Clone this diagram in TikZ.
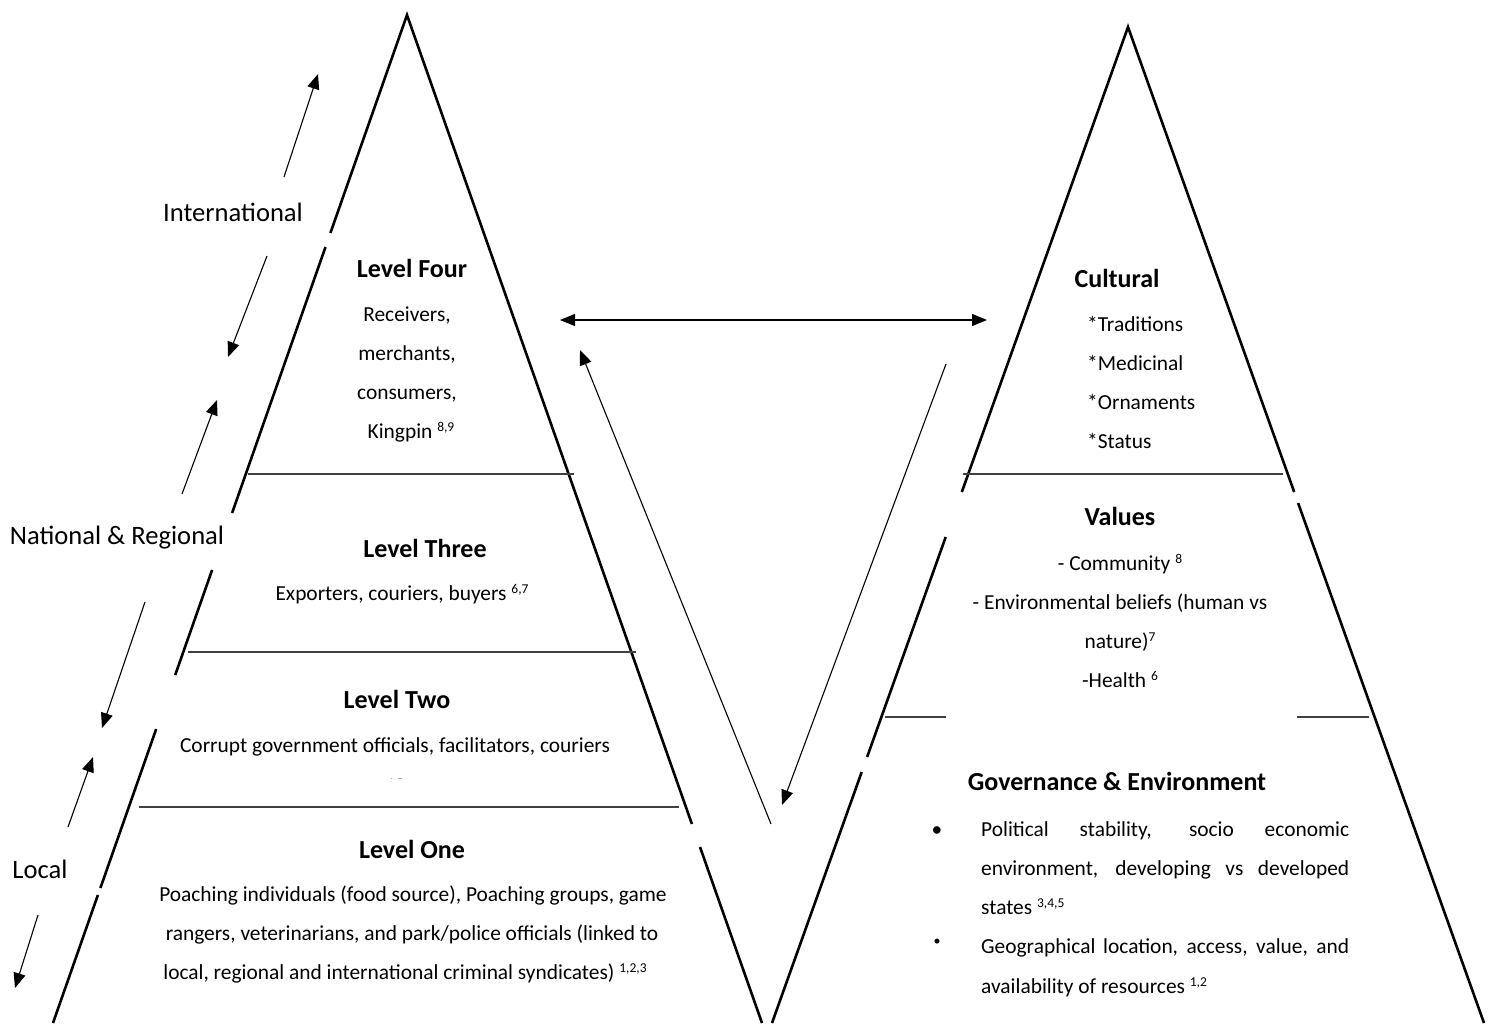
\documentclass[tikz,border=0pt]{standalone}
\usepackage{fontspec}
\setmainfont{Carlito}
\usetikzlibrary{arrows.meta}
\newcommand\refsup[1]{\raisebox{0.34em}{\fontsize{13.5}{13.5}\selectfont #1}}
\begin{document}
\begin{tikzpicture}[x=1pt,y=-1pt,
  edge/.style={line width=2.6pt},
  levelline/.style={line width=1.3pt, draw=black!75},
  flow/.style={line width=1.1pt, -{Triangle[length=15pt,width=12pt]}},
  twoway/.style={line width=1.1pt, {Triangle[length=15pt,width=12pt]}-{Triangle[length=15pt,width=12pt]}},
  txt/.style={inner sep=0pt, font=\fontsize{21.4}{25}\selectfont, text height=17pt, text depth=4pt},
  head/.style={inner sep=0pt, font=\fontsize{26}{30}\selectfont\bfseries, text height=20pt, text depth=5pt},
  lab/.style={inner sep=0pt, font=\fontsize{26.6}{30}\selectfont, text height=20pt, text depth=5pt},
]
\useasboundingbox[fill=white] (0,0) rectangle (1491,1023);

% ---------- left triangle ----------
\coordinate (LA) at (407,15);
\coordinate (LL1) at (330.4,233);
\coordinate (LL2) at (325.5,247);
\coordinate (LL3) at (232.1,513);
\coordinate (LL4) at (212.1,570);
\coordinate (LL5) at (175.2,675);
\coordinate (LL6) at (156.2,729);
\coordinate (LL7) at (100.4,888);
\coordinate (LL8) at (97.9,895);
\coordinate (LLb) at (53,1023);
\coordinate (LR1) at (691.9,824);
\coordinate (LR2) at (700,847);
\coordinate (LRb) at (762,1023);
\draw[edge] (LL1) -- (LA) -- (LR1);
\draw[edge] (LL2) -- (LL3);
\draw[edge] (LL4) -- (LL5);
\draw[edge] (LL6) -- (LL7);
\draw[edge] (LL8) -- (LLb);
\draw[edge] (LR2) -- (LRb);

% ---------- right triangle ----------
\coordinate (RA) at (1128,27);
\coordinate (RL1) at (961.8,492);
\coordinate (RL2) at (945.7,537);
\coordinate (RL3) at (867.1,757);
\coordinate (RL4) at (861.7,772);
\coordinate (RLb) at (772,1023);
\coordinate (RR1) at (1294.2,492);
\coordinate (RR2) at (1298.1,503);
\coordinate (RRb) at (1484,1023);
\draw[edge] (RL1) -- (RA) -- (RR1);
\draw[edge] (RL2) -- (RL3);
\draw[edge] (RL4) -- (RLb);
\draw[edge] (RR2) -- (RRb);

% ---------- level lines ----------
\coordinate (h1a) at (248,474);  \coordinate (h1b) at (574,474);
\coordinate (h2a) at (188,652);  \coordinate (h2b) at (636,652);
\coordinate (h3a) at (139,807);  \coordinate (h3b) at (679,807);
\coordinate (h4a) at (963,474);  \coordinate (h4b) at (1283,474);
\coordinate (h5a) at (885,717);  \coordinate (h5b) at (946,717);
\coordinate (h6a) at (1297,717); \coordinate (h6b) at (1369,717);
\draw[levelline] (h1a) -- (h1b);
\draw[levelline] (h2a) -- (h2b);
\draw[levelline] (h3a) -- (h3b);
\draw[levelline] (h4a) -- (h4b);
\draw[levelline] (h5a) -- (h5b);
\draw[levelline] (h6a) -- (h6b);

% ---------- scale arrows ----------
\coordinate (a1s) at (284,177); \coordinate (a1e) at (318,74);
\coordinate (a2s) at (267,256); \coordinate (a2e) at (228,357);
\coordinate (a3s) at (182,494); \coordinate (a3e) at (217,400);
\coordinate (a4s) at (145,602); \coordinate (a4e) at (102,728);
\coordinate (a5s) at (68,827);  \coordinate (a5e) at (93,757);
\coordinate (a6s) at (38,915);  \coordinate (a6e) at (15,988);
\draw[flow] (a1s) -- (a1e);
\draw[flow] (a2s) -- (a2e);
\draw[flow] (a3s) -- (a3e);
\draw[flow] (a4s) -- (a4e);
\draw[flow] (a5s) -- (a5e);
\draw[flow] (a6s) -- (a6e);

\node[lab] (intl) at (233,214) {International};
\node[lab] (natreg) at (117,537) {National \& Regional};
\node[lab] (local) at (40,871) {Local};

% ---------- linking arrows ----------
\coordinate (hA) at (560,320); \coordinate (hB) at (987,320);
\coordinate (uS) at (771,824); \coordinate (uE) at (580,350);
\coordinate (dS) at (946,364); \coordinate (dE) at (782,805);
\draw[twoway] (hA) -- (hB);
\draw[flow] (uS) -- (uE);
\draw[flow] (dS) -- (dE);

% ---------- left texts ----------
\node[head] (l4h) at (412,270) {Level Four};
\node[txt] (l4a) at (407,315) {Receivers,};
\node[txt] (l4b) at (407,354) {merchants,};
\node[txt] (l4c) at (407,393) {consumers,};
\node[txt] (l4d) at (411,432) {Kingpin \refsup{8,9}};
\node[head] (l3h) at (425,550) {Level Three};
\node[txt] (l3a) at (402,594) {Exporters, couriers, buyers \refsup{6,7}};
\node[head] (l2h) at (397,701) {Level Two};
\node[txt] (l2a) at (395,746) {Corrupt government officials, facilitators, couriers};
\begin{scope}
  \clip (370,770) rectangle (420,778);
  \node[inner sep=0pt, font=\fontsize{13}{13}\selectfont] (l2frag) at (395,784) {4,5};
\end{scope}
\node[head] (l1h) at (412,851) {Level One};
\node[txt] (l1a) at (413,895) {Poaching individuals (food source), Poaching groups, game};
\node[txt] (l1b) at (412,934) {rangers, veterinarians, and park/police officials (linked to};
\node[txt] (l1c) at (405,973) {local, regional and international criminal syndicates) \refsup{1,2,3}};

% ---------- right texts ----------
\node[head] (ch) at (1117,280) {Cultural};
\node[txt, anchor=west] (c1) at (1087,325) {*Traditions};
\node[txt, anchor=west] (c2) at (1087,364) {*Medicinal};
\node[txt, anchor=west] (c3) at (1087,403) {*Ornaments};
\node[txt, anchor=west] (c4) at (1087,442) {*Status};
\node[head] (vh) at (1120,518) {Values};
\node[txt] (v1) at (1120,564) {- Community \refsup{8}};
\node[txt] (v2) at (1120,603) {- Environmental beliefs (human vs};
\node[txt] (v3) at (1120,642) {nature)\refsup{7}};
\node[txt] (v4) at (1120,681) {-Health \refsup{6}};
\node[head] (gh) at (1117,783) {Governance \& Environment};
\node[txt] (gb1) at (937,830) {•};
\node[txt, font=\fontsize{14}{14}\selectfont] (gb2) at (937,939) {•};
\node[txt, anchor=west] (g1) at (981,830) {\makebox[368pt][s]{Political stability, socio economic}};
\node[txt, anchor=west] (g2) at (981,869) {\makebox[368pt][s]{environment, developing vs developed}};
\node[txt, anchor=west] (g3) at (981,908) {states \refsup{3,4,5}};
\node[txt, anchor=west] (g4) at (981,947) {\makebox[368pt][s]{Geographical location, access, value, and}};
\begin{scope}
  \clip (960,960) rectangle (1360,996);
  \node[txt, anchor=west] (g5) at (981,987) {availability of resources \refsup{1,2}};
\end{scope}
\end{tikzpicture}
\end{document}
